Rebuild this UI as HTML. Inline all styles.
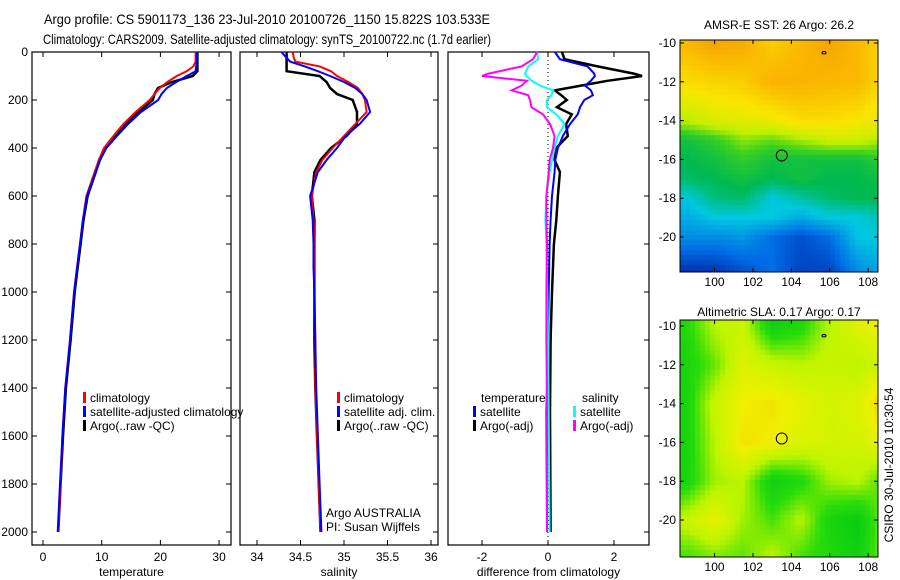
<!DOCTYPE html>
<html><head><meta charset="utf-8">
<style>
html,body{margin:0;padding:0;background:#fff;}
#wrap{position:relative;width:900px;height:580px;overflow:hidden;font-family:"Liberation Sans",sans-serif;}
svg text{font-family:"Liberation Sans",sans-serif;font-size:12px;fill:#000;}
canvas{position:absolute;}
</style></head>
<body>
<div id="wrap">
<canvas id="sstMap" style="left:680px;top:40px" width="198" height="232"></canvas>
<canvas id="slaMap" style="left:680px;top:320px" width="198" height="237"></canvas>
<svg id="fig" width="900" height="580" style="position:absolute;left:0;top:0">
<text x="44" y="24" style="font-size:14px" textLength="446" lengthAdjust="spacingAndGlyphs">Argo profile: CS 5901173_136 23-Jul-2010 20100726_1150 15.822S 103.533E</text>
<text x="43" y="44" style="font-size:14px" textLength="448" lengthAdjust="spacingAndGlyphs">Climatology: CARS2009. Satellite-adjusted climatology: synTS_20100722.nc (1.7d earlier)</text>
<text x="779" y="29" text-anchor="middle">AMSR-E SST: 26 Argo: 26.2</text>
<text x="779" y="316" text-anchor="middle">Altimetric SLA: 0.17 Argo: 0.17</text>
<text transform="translate(893,465) rotate(-90)" text-anchor="middle">CSIRO 30-Jul-2010 10:30:54</text>
<text x="326" y="517">Argo AUSTRALIA</text>
<text x="326" y="531">PI: Susan Wijffels</text>
<g id="layer"></g>
</svg>
</div>
<script>
// ---- profile data ----
const depths = [0,20,40,60,80,100,125,150,175,200,250,300,350,400,450,500,600,700,800,900,1000,1200,1400,1600,1800,2000];
const tempClim = [26.0,26.0,26.0,25.6,24.5,22.8,21.2,19.9,19.0,18.2,15.8,13.7,12.0,10.4,9.5,8.8,7.4,6.8,6.3,5.8,5.3,4.6,3.8,3.3,3.0,2.6];
const tempSat  = [26.2,26.2,26.2,26.1,26.0,24.5,22.7,21.1,20.2,19.6,16.7,14.5,12.6,10.8,9.7,9.0,7.5,6.8,6.3,5.8,5.3,4.6,3.8,3.3,2.9,2.5];
const tempArgo = [26.3,26.3,26.3,26.3,26.3,25.5,22.0,19.6,19.0,18.7,16.2,14.1,12.3,10.7,9.7,9.0,7.6,6.9,6.4,5.9,5.4,4.7,3.9,3.4,3.0,2.6];
const salClim = [34.41,34.42,34.44,34.72,34.85,34.92,35.05,35.16,35.21,35.24,35.26,35.13,35.0,34.87,34.75,34.68,34.63,34.65,34.66,34.66,34.66,34.67,34.67,34.69,34.71,34.73];
const salSat  = [34.28,34.33,34.38,34.55,34.7,34.84,35.0,35.13,35.21,35.26,35.3,35.18,35.02,34.92,34.8,34.7,34.61,34.64,34.65,34.65,34.66,34.67,34.68,34.7,34.72,34.74];
const salArgo = [34.34,34.34,34.34,34.34,34.34,34.72,34.8,34.84,34.92,35.1,35.15,35.15,35.03,34.85,34.73,34.66,34.63,34.66,34.66,34.66,34.66,34.66,34.67,34.69,34.71,34.73];
const diffDepths = [0,30,60,90,100,120,140,160,180,200,230,260,300,350,400,450,500,600,700,800,1000,1200,1500,2000];
const dTempSat  = [0.21,0.36,1.2,1.4,1.42,1.3,1.12,1.3,1.36,1.1,0.97,0.9,0.67,0.45,0.3,0.22,0.2,0.12,0.08,0.05,0.02,0.0,-0.05,-0.03];
const dTempArgo = [0.42,0.5,1.5,2.6,2.85,1.8,1.0,0.21,0.4,0.57,0.27,0.72,0.55,0.6,0.25,0.2,0.36,0.3,0.25,0.18,0.12,0.08,0.06,0.08];
const dSalSat   = [-0.33,-0.3,-0.6,-0.7,-0.65,-0.5,-0.24,0.16,0.1,-0.03,-0.03,0.25,0.5,0.3,0.2,0.12,0.05,-0.05,-0.08,-0.05,-0.02,0,0.02,0.05];
const dSalArgo  = [-0.33,-0.45,-0.8,-1.8,-2.0,-0.64,-0.8,-1.1,-0.6,-0.55,-0.5,-0.15,0.06,0.2,0.15,0.05,0.02,-0.05,-0.05,-0.03,-0.05,-0.05,-0.03,-0.03];
const depthTicks = [0,200,400,600,800,1000,1200,1400,1600,1800,2000];
const tempTicks = [0,10,20,30];
const salTicks = [34,34.5,35,35.5,36];
const diffTicks = [-2,0,2];
// ---- map data (coarse grids, rows = lat, cols = lon) ----
const mapLats = [-10,-12,-14,-15,-16,-17,-18,-19,-20,-21.8];
const mapLons = [98.5,100,101.5,103,104.5,106,107.5,108.8];
const sstGrid = [
 [.88,.95,.92,.82,.88,.95,.88,.78],
 [.78,.8,.82,.9,.9,.88,.88,.78],
 [.62,.68,.7,.72,.78,.78,.75,.7],
 [.45,.5,.58,.55,.6,.65,.65,.6],
 [.42,.45,.5,.45,.45,.45,.45,.5],
 [.4,.42,.45,.42,.45,.42,.42,.45],
 [.3,.38,.4,.3,.35,.4,.42,.42],
 [.25,.3,.3,.3,.25,.3,.3,.35],
 [.2,.2,.22,.15,.1,.15,.3,.3],
 [.05,.05,.1,.15,.08,.08,.2,.25]];
const slaLats = [-10,-12,-14,-16,-18,-20,-21.8];
const slaGrid = [
 [.2,.5,.55,.1,.2,.5,.65,.75],
 [.15,.35,.65,.55,.5,.55,.5,.6],
 [.15,.55,.75,.8,.7,.6,.65,.9],
 [.15,.5,.8,.75,.65,.6,.6,.7],
 [.15,.45,.5,.1,.2,.45,.5,.3],
 [.55,.7,.45,.3,.5,.15,.05,.4],
 [.3,.4,.35,.5,.3,.2,.1,.4]];
const latTicks = [-10,-12,-14,-16,-18,-20];
const lonTicks = [100,102,104,106,108];
const argoPos = [103.5,-15.8];

const NS='http://www.w3.org/2000/svg';
const layer=document.getElementById('layer');
function el(tag,attrs){const e=document.createElementNS(NS,tag);for(const k in attrs)e.setAttribute(k,attrs[k]);layer.appendChild(e);return e;}
const yD = d => 52 + d*0.24;
const axTop=52, axBot=545;
const panels=[
 {x0:32,x1:231,f:v=>43+v*5.87,ticks:tempTicks,title:'temperature',name:'temperature'},
 {x0:240,x1:438,f:v=>257+(v-34)*87,ticks:salTicks,title:'salinity',name:'salinity'},
 {x0:448,x1:649,f:v=>548+v*33,ticks:diffTicks,title:'difference from climatology',name:'difference'}];
panels.forEach((p,i)=>{
 const r=el('rect',{x:p.x0,y:axTop,width:p.x1-p.x0,height:axBot-axTop,fill:'none',stroke:'#000','stroke-width':1.2});
 
 
 p.ticks.forEach(t=>{const x=p.f(t);
  const l=el('path',{d:`M${x},${axBot}v-5M${x},${axTop}v5`,stroke:'#000'});
  
  
  const tx=el('text',{x:x,y:561,'text-anchor':'middle'});tx.textContent=String(t);
  
  
 });
 const tt=el('text',{x:(p.x0+p.x1)/2,y:576,'text-anchor':'middle'});tt.textContent=p.title;
 
 
 depthTicks.forEach(d=>{const y=yD(d);
  const path = i===0?`M${p.x0},${y}h5M${p.x1},${y}h-5`:`M${p.x1},${y}h-5`;
  const l=el('path',{d:path,stroke:'#000'});
  
  
 });
});
depthTicks.forEach(d=>{const t=el('text',{x:28,y:yD(d)+4,'text-anchor':'end'});t.textContent=String(d);
 
 });
const z=el('line',{x1:548,x2:548,y1:axTop,y2:axBot,stroke:'#000','stroke-dasharray':'1,3'});


function series(vals,ds,f,color,w,name){
 const pts=vals.map((v,i)=>f(v).toFixed(1)+','+yD(ds[i]).toFixed(1)).join(' ');
 const pl=el('polyline',{points:pts,fill:'none',stroke:color,'stroke-width':w,'stroke-linejoin':'miter'});
 
 
}
const P=panels;
series(tempArgo,depths,P[0].f,'#000',2.5,'temp-argo-line');
series(tempClim,depths,P[0].f,'#f00',2,'temp-climatology-line');
series(tempSat,depths,P[0].f,'#00f',2,'temp-satellite-line');
series(salArgo,depths,P[1].f,'#000',2.5,'sal-argo-line');
series(salClim,depths,P[1].f,'#f00',2,'sal-climatology-line');
series(salSat,depths,P[1].f,'#00f',2,'sal-satellite-line');
series(dTempArgo,diffDepths,P[2].f,'#000',2.5,'diff-temp-argo-line');
series(dTempSat,diffDepths,P[2].f,'#00f',2,'diff-temp-satellite-line');
series(dSalSat,diffDepths,P[2].f,'#0ff',2,'diff-sal-satellite-line');
series(dSalArgo,diffDepths,P[2].f,'#f0f',2,'diff-sal-argo-line');
function leg(x,y,color,label){
 const r=el('rect',{x:x,y:y-10,width:3,height:11,fill:color});
 
 
 const t=el('text',{x:x+7,y:y});t.textContent=label;
 
 
}
leg(83,402,'#f00','climatology');leg(83,416,'#00f','satellite-adjusted climatology');leg(83,430,'#000','Argo(..raw -QC)');
leg(337,402,'#f00','climatology');leg(337,416,'#00f','satellite adj. clim.');leg(337,430,'#000','Argo(..raw -QC)');
{const t=el('text',{x:481,y:402});t.textContent='temperature';
 const s=el('text',{x:582,y:402});s.textContent='salinity';}
leg(473,416,'#00f','satellite');leg(473,430,'#000','Argo(-adj)');
leg(573,416,'#0ff','satellite');leg(573,430,'#f0f','Argo(-adj)');
// ---- maps ----
function lerpC(stops,v){v=Math.max(0,Math.min(1,v));for(let i=1;i<stops.length;i++){if(v<=stops[i][0]){const a=stops[i-1],b=stops[i];const t=(v-a[0])/(b[0]-a[0]);return [0,1,2].map(k=>Math.round(a[1][k]+(b[1][k]-a[1][k])*t));}}return stops[stops.length-1][1];}
const sstStops=[[0,[0,20,150]],[0.15,[0,110,230]],[0.3,[0,200,225]],[0.42,[0,185,80]],[0.52,[60,210,30]],[0.62,[190,240,0]],[0.75,[250,230,0]],[0.88,[250,185,0]],[1,[245,150,0]]];
const slaStops=[[0,[0,200,20]],[0.25,[40,220,10]],[0.5,[190,245,0]],[0.75,[240,240,0]],[1,[248,175,0]]];
function interpGrid(grid,lats,lons,lat,lon){
 let r=0;while(r<lats.length-2&&lat<lats[r+1])r++;
 let c=0;while(c<lons.length-2&&lon>lons[c+1])c++;
 const ty=Math.max(0,Math.min(1,(lat-lats[r])/(lats[r+1]-lats[r])));
 const tx=Math.max(0,Math.min(1,(lon-lons[c])/(lons[c+1]-lons[c])));
 const a=grid[r][c],b=grid[r][c+1],cc=grid[r+1][c],d=grid[r+1][c+1];
 return a*(1-tx)*(1-ty)+b*tx*(1-ty)+cc*(1-tx)*ty+d*tx*ty;
}
function drawMap(id,grid,lats,stops,h,off){
 const cv=document.getElementById(id),ctx=cv.getContext('2d');
 const cell=5;
 for(let py=0;py<h;py+=cell)for(let px=0;px<198;px+=cell){
  const lon=98.2+(px+cell/2)/19.2;
  const lat=-10-((py+cell/2)-off)/19.4;
  const v=interpGrid(grid,lats,mapLons,lat,lon);
  const c=lerpC(stops,v);ctx.fillStyle=`rgb(${c[0]},${c[1]},${c[2]})`;ctx.fillRect(px,py,cell,cell);
 }
}
drawMap('sstMap',sstGrid,mapLats,sstStops,232,3);
drawMap('slaMap',slaGrid,slaLats,slaStops,237,6);
function mapAxes(top,h,lat10y,name){
 const lx=lon=>680+(lon-98.2)*19.2, ly=lat=>lat10y-(lat+10)*19.4;
 const r=el('rect',{x:680,y:top,width:198,height:h,fill:'none',stroke:'#000','stroke-width':1});
 
 
 latTicks.forEach(t=>{const y=ly(t);
  const p=el('path',{d:`M680,${y}h4M878,${y}h-4`,stroke:'#000'});
  
  
  const tx=el('text',{x:676,y:y+4,'text-anchor':'end'});tx.textContent=String(t);
  
  });
 lonTicks.forEach(t=>{const x=lx(t);
  const p=el('path',{d:`M${x},${top}v4M${x},${top+h}v-4`,stroke:'#000'});
  
  
  const tx=el('text',{x:x,y:top+h+14,'text-anchor':'middle'});tx.textContent=String(t);
  
  });
 const c=el('circle',{cx:lx(argoPos[0]),cy:ly(argoPos[1]),r:5.5,fill:'none',stroke:'#000','stroke-width':1});
 
 
 const m=el('ellipse',{cx:lx(105.7),cy:ly(-10.5),rx:2,ry:1.2,fill:'none',stroke:'#000','stroke-width':1});
 
 
}
mapAxes(40,232,43,'sst-map');
mapAxes(320,237,326,'sla-map');
</script>
</body></html>
